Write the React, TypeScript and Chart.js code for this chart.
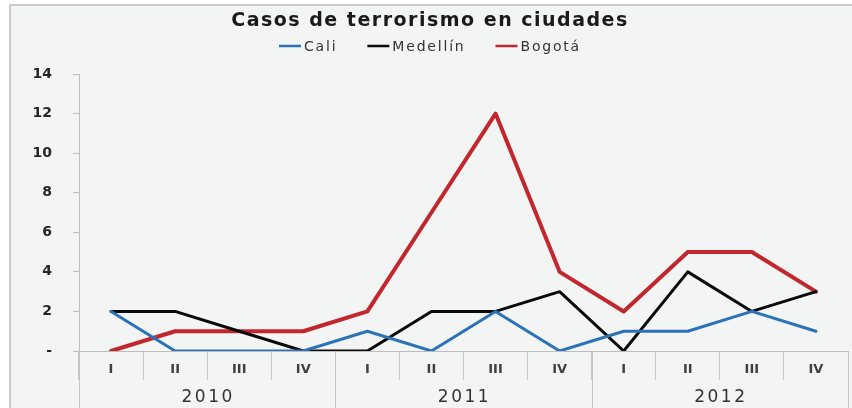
import React, { useEffect, useRef } from "react";
import { Chart, registerables } from "chart.js";

Chart.register(...registerables);

const quarters = ["I", "II", "III", "IV", "I", "II", "III", "IV", "I", "II", "III", "IV"];
const years = ["2010", "2011", "2012"];
const cali = [2, 0, 0, 0, 1, 0, 2, 0, 1, 1, 2, 1];
const medellin = [2, 2, 1, 0, 0, 2, 2, 3, 0, 4, 2, 3];
const bogota = [0, 1, 1, 1, 2, 7, 12, 4, 2, 5, 5, 3];
const yTicks = [0, 2, 4, 6, 8, 10, 12, 14];
const titleText = "Casos de terrorismo en ciudades";

const FONT = "'DejaVu Sans', sans-serif";

const framePlugin = {
  id: "frame",
  beforeDraw(chart: any) {
    const { ctx, width, height } = chart;
    ctx.save();
    ctx.fillStyle = "#ffffff";
    ctx.fillRect(0, 0, width, height);
    ctx.fillStyle = "#f3f4f4";
    ctx.fillRect(10, 5, width - 10, height - 5);
    ctx.strokeStyle = "#cbcbcb";
    ctx.lineWidth = 2;
    ctx.beginPath();
    ctx.moveTo(9, 5);
    ctx.lineTo(width, 5);
    ctx.moveTo(10, 5);
    ctx.lineTo(10, height);
    ctx.stroke();
    ctx.restore();
  },
};

const headerPlugin = {
  id: "header",
  afterDraw(chart: any) {
    const { ctx } = chart;
    const cx = 430;
    ctx.save();
    (ctx as any).letterSpacing = "1.5px";
    ctx.fillStyle = "#1a1a1a";
    ctx.font = `bold 19px ${FONT}`;
    ctx.textAlign = "center";
    ctx.textBaseline = "middle";
    ctx.fillText(titleText, cx, 21);

    // legend
    (ctx as any).letterSpacing = "1.8px";
    ctx.font = `14px ${FONT}`;
    ctx.textAlign = "left";
    const lineW = 22;
    const gap = 3;
    const sep = 30;
    const ds = chart.data.datasets;
    const widths = ds.map((d: any) => lineW + gap + ctx.measureText(d.label).width);
    const total = widths.reduce((a: number, b: number) => a + b, 0) + sep * (ds.length - 1);
    let x = cx - total / 2;
    const y = 46;
    ds.forEach((d: any, i: number) => {
      ctx.strokeStyle = d.borderColor;
      ctx.lineWidth = 2.5;
      ctx.beginPath();
      ctx.moveTo(x, y);
      ctx.lineTo(x + lineW, y);
      ctx.stroke();
      ctx.fillStyle = "#333333";
      ctx.fillText(d.label, x + lineW + gap, y + 1);
      x += widths[i] + sep;
    });
    ctx.restore();
  },
};

const yearAxisPlugin = {
  id: "yearAxis",
  afterDraw(chart: any) {
    const { ctx, chartArea } = chart;
    const x = chart.scales.x;
    const bottom = chart.height;
    ctx.save();
    ctx.strokeStyle = "#c4c4c4";
    ctx.lineWidth = 1;
    const per = quarters.length / years.length;
    for (let i = 0; i <= years.length; i++) {
      let px: number;
      if (i === 0) px = chartArea.left;
      else if (i === years.length) px = chartArea.right;
      else px = (x.getPixelForValue(i * per - 1) + x.getPixelForValue(i * per)) / 2;
      ctx.beginPath();
      ctx.moveTo(Math.round(px) + 0.5, chartArea.bottom);
      ctx.lineTo(Math.round(px) + 0.5, bottom);
      ctx.stroke();
    }
    ctx.fillStyle = "#333333";
    ctx.font = `17px ${FONT}`;
    (ctx as any).letterSpacing = "2.5px";
    ctx.textAlign = "center";
    ctx.textBaseline = "middle";
    years.forEach((yr, i) => {
      const cx = (x.getPixelForValue(i * per) + x.getPixelForValue(i * per + per - 1)) / 2;
      ctx.fillText(yr, cx + 1, 398);
    });
    ctx.restore();
  },
};

export default function App() {
  const ref = useRef<HTMLCanvasElement | null>(null);
  useEffect(() => {
    if (!ref.current) return;
    const chart = new Chart(ref.current, {
      type: "line",
      data: {
        labels: quarters,
        datasets: [
          { label: "Cali", data: cali, borderColor: "#2b73b6", backgroundColor: "#2b73b6", borderWidth: 3 },
          { label: "Medellín", data: medellin, borderColor: "#0a0a0a", backgroundColor: "#0a0a0a", borderWidth: 3 },
          { label: "Bogotá", data: bogota, borderColor: "#c1272d", backgroundColor: "#c1272d", borderWidth: 4 },
        ],
      },
      options: {
        animation: false,
        responsive: true,
        maintainAspectRatio: false,
        layout: { padding: { left: 0, right: 4, top: 74, bottom: 0 } },
        elements: {
          point: { radius: 0, hoverRadius: 0 },
          line: { tension: 0, borderJoinStyle: "round", borderCapStyle: "round" },
        },
        plugins: {
          title: { display: false },
          legend: { display: false },
          tooltip: { enabled: false },
        },
        scales: {
          x: {
            type: "category",
            offset: true,
            grid: {
              offset: true,
              drawOnChartArea: false,
              drawTicks: true,
              tickLength: 29,
              color: "#c8c8c8",
            },
            border: { display: true, color: "#bdbdbd" },
            ticks: {
              color: "#404040",
              font: { family: FONT, size: 13, weight: "bold" },
              padding: -18,
              maxRotation: 0,
              autoSkip: false,
            },
            afterFit(scale: any) {
              scale.height = 57;
            },
          },
          y: {
            min: 0,
            max: 14,
            afterBuildTicks(scale: any) {
              scale.ticks = yTicks.map((v) => ({ value: v }));
            },
            grid: {
              drawOnChartArea: false,
              drawTicks: true,
              tickLength: 6,
              color: "#bdbdbd",
            },
            border: { display: true, color: "#bdbdbd" },
            ticks: {
              color: "#262626",
              font: { family: FONT, size: 14, weight: "bold" },
              padding: 21,
              callback: (v: any) => (Number(v) === 0 ? "-" : String(v)),
            },
            afterFit(scale: any) {
              scale.width = 79;
            },
          },
        },
      },
      plugins: [framePlugin, yearAxisPlugin, headerPlugin],
    });
    return () => chart.destroy();
  }, []);
  return (
    <div style={{ position: "absolute", left: 0, top: 0, width: 852, height: 408 }}>
      <canvas ref={ref} />
    </div>
  );
}
